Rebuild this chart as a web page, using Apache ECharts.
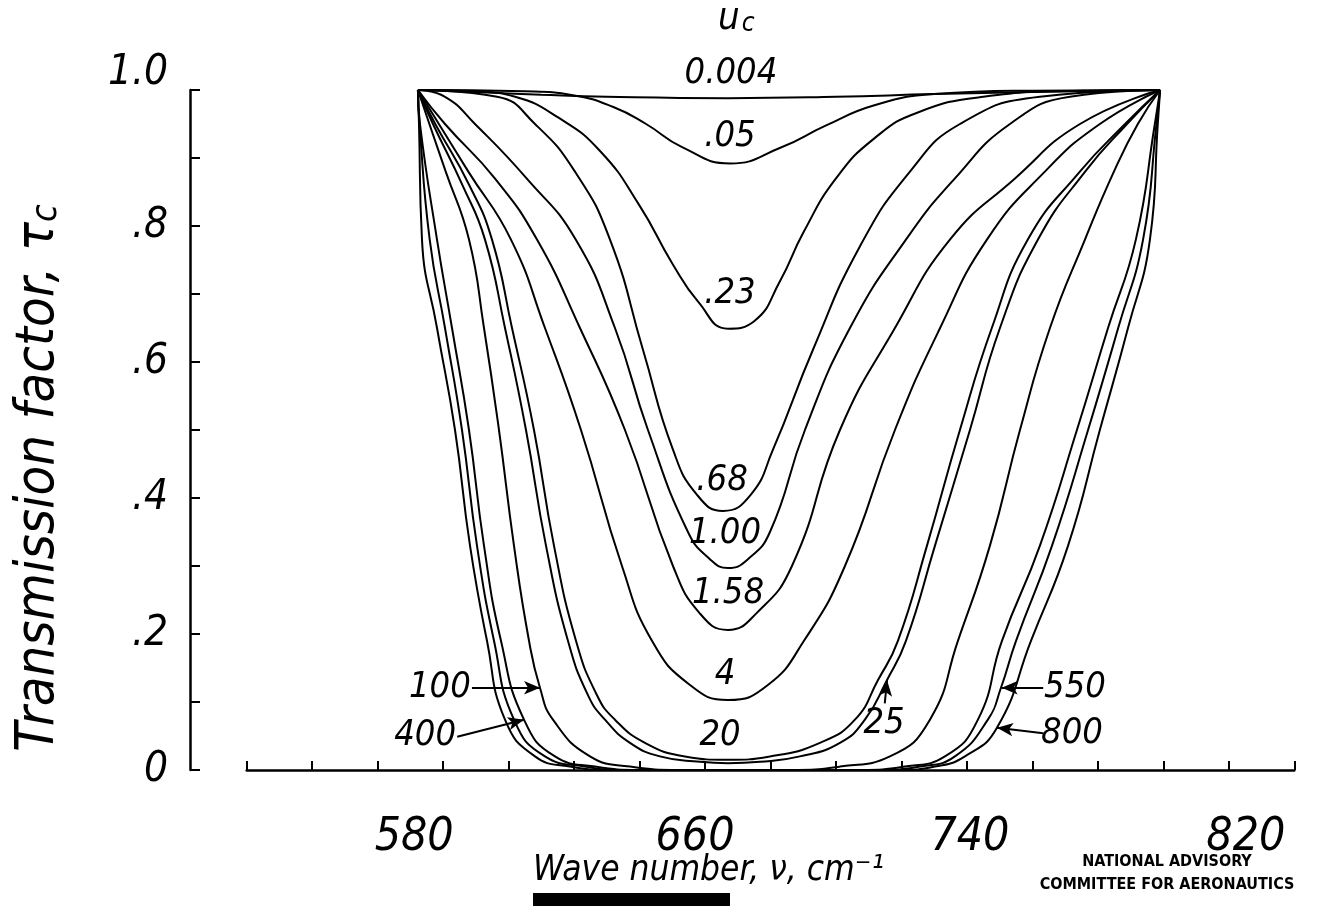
<!DOCTYPE html>
<html>
<head>
<meta charset="utf-8">
<title>Transmission factor of carbon dioxide band</title>
<script src="https://cdn.jsdelivr.net/npm/echarts@6/dist/echarts.min.js"></script>
<style>
  html, body { margin: 0; padding: 0; background: #fff; }
  #chart { width: 1318px; height: 906px; }
</style>
</head>
<body>
<div id="chart"></div>
<script>
// Tick labels
const xTickLabels = [580, 660, 740, 820];
const yTickLabels = ['0', '.2', '.4', '.6', '.8', '1.0'];

// Transmission factor tau_c vs wave number (cm^-1), one curve per path parameter u_c
const curveU0004 = [[572.3,1],[590,0.997],[610,0.993],[630,0.99],[667,0.988],[700,0.99],[730,0.994],[760,0.997],[799,1]];
const curveU005  = [[572.3,1],[605,0.998],[620,0.992],[632,0.975],[642,0.95],[653,0.916],[667.7,0.892],[683,0.915],[697,0.948],[712,0.978],[730,0.994],[760,0.999],[799,1]];
const curveU023  = [[572.3,1],[590,0.998],[602,0.99],[615,0.96],[628,0.91],[640,0.83],[650,0.745],[658,0.688],[667,0.649],[675,0.66],[683,0.72],[690,0.79],[700,0.87],[712,0.93],[725,0.967],[745,0.99],[775,0.999],[799,1]];
const curveU068  = [[572.3,1],[596.5,0.99],[608.06,0.95],[620.27,0.88],[630.97,0.78],[641.04,0.618],[650.21,0.471],[657.5,0.405],[665.5,0.381],[674,0.405],[680.75,0.471],[692.97,0.618],[707.3,0.77],[722.6,0.88],[737.86,0.95],[762.3,0.99],[799,1]];
const curveU100  = [[572.3,1],[580.57,0.99],[589.73,0.95],[605.5,0.87],[620.5,0.78],[632.49,0.65],[642.57,0.5],[654.79,0.35],[661.5,0.31],[667,0.297],[673.1,0.31],[679.83,0.35],[690.52,0.5],[704.27,0.65],[721.37,0.78],[736.33,0.87],[753.14,0.95],[771.47,0.99],[799,1]];
const curveU158  = [[572.3,1],[580.57,0.95],[595.8,0.87],[608.67,0.78],[621.8,0.65],[635.55,0.5],[650.21,0.3],[658.46,0.23],[667,0.206],[675.6,0.23],[686.55,0.3],[701.21,0.5],[718.01,0.65],[734.8,0.78],[754.68,0.87],[774.53,0.95],[799,1]];
const curveU4    = [[572.3,1],[578.7,0.95],[587.7,0.88],[600.73,0.78],[611.11,0.65],[622.11,0.5],[634.63,0.3],[643.79,0.19],[655.4,0.125],[667,0.103],[679.2,0.125],[690.22,0.19],[702.74,0.3],[718.01,0.5],[731.8,0.65],[746.11,0.78],[763.8,0.88],[780.6,0.95],[799,1]];
const curveU20   = [[572.3,1],[577.6,0.95],[588,0.86],[594.93,0.78],[601.04,0.65],[607.75,0.5],[613.86,0.33],[620.58,0.19],[627,0.11],[632.49,0.074],[641.65,0.04],[653.87,0.02],[667,0.015],[679.83,0.02],[695.1,0.04],[705.79,0.074],[712.8,0.132],[718.92,0.19],[727.8,0.33],[737.86,0.5],[747.6,0.65],[758.6,0.78],[774.5,0.88],[788.3,0.95],[799,1]];
const curveU25   = [[572.3,1],[576.9,0.95],[585.9,0.86],[592.79,0.78],[598.9,0.65],[605.31,0.5],[611.42,0.33],[618.13,0.19],[624.24,0.11],[629.44,0.074],[637.08,0.04],[646.24,0.02],[658.5,0.012],[667,0.01],[676.8,0.012],[688.99,0.02],[701.21,0.04],[708.84,0.074],[715.56,0.132],[721.37,0.19],[730.24,0.33],[740.92,0.5],[750.09,0.65],[761.7,0.78],[776.1,0.88],[788.9,0.95],[799,1]];
const curveU100b = [[572.3,1],[575.8,0.95],[580.8,0.88],[587.9,0.78],[592.48,0.65],[597.06,0.5],[601.64,0.33],[606.23,0.19],[609.58,0.121],[613.55,0.074],[624.86,0.02],[637.08,0.005],[652.34,0],[686,0],[701.21,0.005],[716.48,0.02],[728.7,0.074],[737.25,0.19],[747.03,0.33],[756.2,0.5],[765.36,0.65],[776.05,0.78],[784.9,0.88],[792.2,0.95],[799,1]];
const curveU400  = [[572.3,1],[572.93,0.95],[578.13,0.78],[582.71,0.65],[587.9,0.5],[592.48,0.33],[597.67,0.19],[604.7,0.074],[614.16,0.02],[626.38,0.005],[640.13,0],[707.32,0],[721.06,0.005],[733.28,0.02],[743.36,0.074],[750.7,0.19],[762.3,0.33],[773.6,0.5],[783.1,0.65],[791.6,0.78],[797.4,0.95],[799,1]];
const curveU550  = [[572.3,1],[572.78,0.95],[575.9,0.78],[580.57,0.65],[585.76,0.5],[590.34,0.33],[595.54,0.19],[601.64,0.074],[611.11,0.02],[623.33,0.005],[635.55,0],[713.42,0],[725.65,0.005],[736.33,0.02],[746.4,0.074],[750.4,0.121],[755,0.19],[766,0.33],[777,0.5],[786.2,0.65],[793.8,0.78],[797.9,0.95],[799,1]];
const curveU800  = [[572.3,1],[572.63,0.95],[573.54,0.78],[578.13,0.65],[583.63,0.5],[588.21,0.33],[593.4,0.19],[598.9,0.074],[608.06,0.02],[618.74,0.005],[630.97,0],[719.53,0],[730.2,0.005],[739.39,0.02],[749.17,0.062],[759.56,0.19],[770.9,0.33],[780.6,0.5],[789.2,0.65],[795.9,0.78],[798.3,0.95],[799,1]];

const curves = [
  { u: '0.004', data: curveU0004 },
  { u: '.05',   data: curveU005 },
  { u: '.23',   data: curveU023 },
  { u: '.68',   data: curveU068 },
  { u: '1.00',  data: curveU100 },
  { u: '1.58',  data: curveU158 },
  { u: '4',     data: curveU4 },
  { u: '20',    data: curveU20 },
  { u: '25',    data: curveU25 },
  { u: '100',   data: curveU100b },
  { u: '400',   data: curveU400 },
  { u: '550',   data: curveU550 },
  { u: '800',   data: curveU800 }
];

// Curve annotations: where each u_c label sits, and the curve point an arrow points to
const annotations = {
  '0.004': { at: [667.9, 1.0235] },
  '.05':   { at: [667.6, 0.932] },
  '.23':   { at: [667.6, 0.701] },
  '.68':   { at: [665.2, 0.426] },
  '1.00':  { at: [666.1, 0.347] },
  '1.58':  { at: [667.0, 0.259] },
  '4':     { at: [666.1, 0.140] },
  '20':    { at: [664.6, 0.051] },
  '25':    { at: [714.7, 0.068], from: [714.9, 0.098], to: [715.6, 0.132] },
  '100':   { at: [579.0, 0.121], from: [588.8, 0.121], to: [609.6, 0.121] },
  '400':   { at: [574.5, 0.051], from: [584.3, 0.049], to: [604.7, 0.074] },
  '550':   { at: [773.0, 0.121], from: [763.3, 0.121], to: [750.6, 0.121] },
  '800':   { at: [772.1, 0.054], from: [763.3, 0.054], to: [749.2, 0.062] }
};

const FONT = "'DejaVu Sans Condensed', 'DejaVu Sans', sans-serif";
const INK = '#000';
const labelFont = { fontFamily: FONT, fontStyle: 'italic', fontSize: 36, color: INK };

// per-label nudges for the hand-lettered x tick labels
const xLabelShift = { 580: -29, 660: -10, 740: 3, 820: 17 };

const series = curves.map(c => {
  const a = annotations[c.u] || {};
  const s = {
    type: 'line',
    name: c.u,
    data: c.data,
    showSymbol: false,
    smooth: 0.5,
    lineStyle: { color: INK, width: 2 },
    silent: true,
    z: 3
  };
  if (a.at && a.at[1] <= 1) {
    s.markPoint = {
      symbol: 'circle',
      symbolSize: 1,
      itemStyle: { color: 'rgba(0,0,0,0)' },
      label: Object.assign({ show: true, position: 'inside', formatter: c.u }, labelFont),
      data: [{ coord: a.at }]
    };
  }
  if (a.from) {
    s.markLine = {
      silent: true,
      symbol: ['none', 'arrow'],
      symbolSize: [10, 16],
      lineStyle: { color: INK, width: 2, type: 'solid' },
      label: { show: false },
      data: [[{ coord: a.from }, { coord: a.to }]]
    };
  }
  return s;
});

const chart = echarts.init(document.getElementById('chart'), null, { renderer: 'canvas' });
chart.setOption({
  animation: false,
  backgroundColor: '#fff',
  grid: { left: 246.7, right: 23.7, top: 90, bottom: 136, containLabel: false, outerBoundsMode: 'none' },
  xAxis: {
    type: 'value', min: 520, max: 840, interval: 20,
    name: 'Wave number, ν, cm⁻¹',
    nameLocation: 'middle', nameGap: 83, nameMoveOverlap: false,
    nameTextStyle: { fontFamily: FONT, fontStyle: 'italic', fontSize: 35, color: INK, padding: [0, 124, 0, 0] },
    axisLine: { show: true, lineStyle: { color: INK, width: 2.5 } },
    axisTick: { show: true, inside: true, length: 9, lineStyle: { color: INK, width: 2 } },
    splitLine: { show: false },
    axisLabel: {
      interval: 0, margin: 45, color: INK,
      formatter: v => xTickLabels.includes(v) ? '{l' + v + '|' + v + '}' : '',
      rich: Object.fromEntries(xTickLabels.map(v => {
        const d = xLabelShift[v];
        return ['l' + v, {
          fontFamily: FONT, fontStyle: 'italic', fontSize: 46, color: INK,
          padding: d < 0 ? [0, -2 * d, 0, 0] : [0, 0, 0, 2 * d]
        }];
      }))
    }
  },
  yAxis: {
    type: 'value', min: 0, max: 1, interval: 0.1, offset: 56.7,
    name: '{t|Transmission factor, τ}{s|c}',
    nameLocation: 'middle', nameGap: 124, nameRotate: 90, nameMoveOverlap: false,
    nameTextStyle: {
      padding: [0, 96, 0, 0],
      rich: {
        t: { fontFamily: FONT, fontStyle: 'italic', fontSize: 54, color: INK },
        s: { fontFamily: FONT, fontStyle: 'italic', fontSize: 36, color: INK, padding: [15, 0, 0, 0] }
      }
    },
    axisLine: { show: true, lineStyle: { color: INK, width: 2.5 } },
    axisTick: { show: true, inside: true, length: 10, lineStyle: { color: INK, width: 2 } },
    splitLine: { show: false },
    axisLabel: {
      interval: 0, margin: 22, color: INK,
      formatter: v => {
        const n = Math.round(v * 10);
        if (n % 2) return '';
        return n === 10 ? '{top|' + yTickLabels[n / 2] + '}' : '{n|' + yTickLabels[n / 2] + '}';
      },
      rich: {
        n: { fontFamily: FONT, fontStyle: 'italic', fontSize: 42, color: INK },
        top: { fontFamily: FONT, fontStyle: 'italic', fontSize: 42, color: INK, padding: [0, 0, 34, 0] }
      }
    }
  },
  series: series
});

// Labels sitting above the plot area: the u_c heading and the top curve's label
const topAt = chart.convertToPixel({ gridIndex: 0 }, annotations['0.004'].at);
chart.setOption({
  graphic: [
    {
      type: 'text', x: topAt[0], y: topAt[1], z: 10,
      style: { text: '0.004', align: 'center', verticalAlign: 'middle', fill: INK,
               fontFamily: FONT, fontStyle: 'italic', fontSize: 36 }
    },
    {
      type: 'text', left: 718, top: 0, z: 10,
      style: {
        text: '{u|u}{c|c}',
        rich: {
          u: { fontFamily: FONT, fontStyle: 'italic', fontSize: 38, fill: INK },
          c: { fontFamily: FONT, fontStyle: 'italic', fontSize: 26, fill: INK, padding: [10, 0, 0, 2] }
        }
      }
    },
    {
      type: 'text', x: 1167, y: 850, z: 10,
      style: {
        text: 'NATIONAL ADVISORY\nCOMMITTEE FOR AERONAUTICS',
        fontFamily: FONT, fontWeight: 'bold', fontSize: 16, lineHeight: 23,
        align: 'center', verticalAlign: 'top', fill: INK
      }
    },
    {
      type: 'rect', left: 533, top: 893, z: 10,
      shape: { width: 197, height: 13 },
      style: { fill: INK }
    }
  ]
});
</script>
</body>
</html>
